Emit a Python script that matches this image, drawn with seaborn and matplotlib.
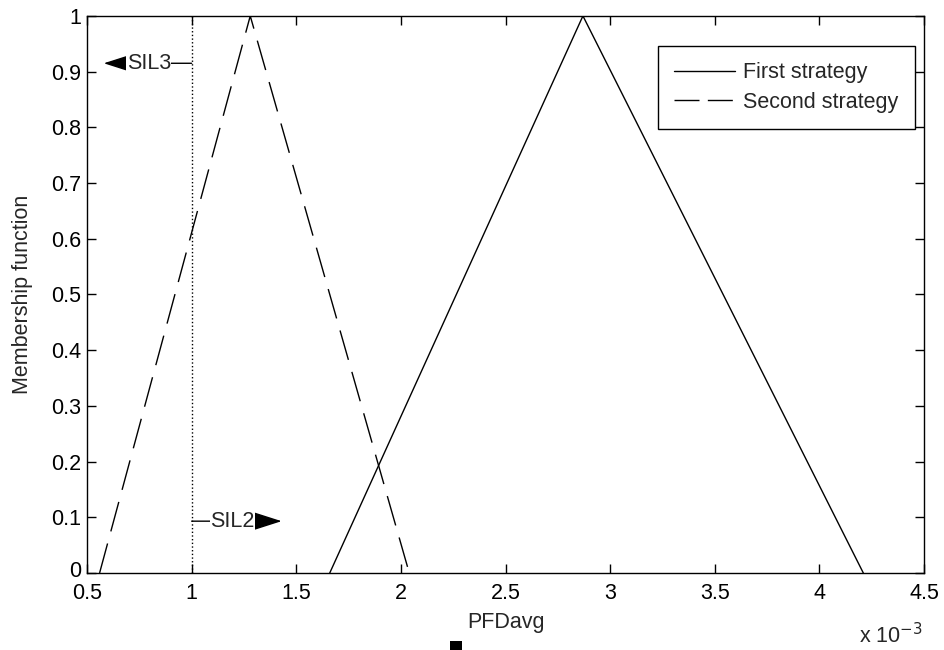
import matplotlib
matplotlib.use("Agg")
import matplotlib.pyplot as plt
from matplotlib.lines import Line2D
from matplotlib.patches import Rectangle
from matplotlib.transforms import ScaledTranslation
import numpy as np
import pandas as pd
import seaborn as sns

# PFDavg values are in units of 1e-3
first_x = [1.66, 2.87, 4.21]
first_mu = [0.0, 1.0, 0.0]
second_x = [0.56, 1.28, 2.04]
second_mu = [0.0, 1.0, 0.0]

sil_bound = 1.0
sil3_head = (0.58, 0.915)
sil2_head = (1.43, 0.093)

x_ticks = [0.5, 1, 1.5, 2, 2.5, 3, 3.5, 4, 4.5]
y_ticks = [0, 0.1, 0.2, 0.3, 0.4, 0.5, 0.6, 0.7, 0.8, 0.9, 1]

FS = 15.5

sns.set_style("ticks")
plt.rcParams["font.family"] = ["Liberation Sans", "DejaVu Sans"]
plt.rcParams["font.size"] = FS

df = pd.concat([
    pd.DataFrame({"pfd": first_x, "mu": first_mu, "strategy": "First strategy"}),
    pd.DataFrame({"pfd": second_x, "mu": second_mu, "strategy": "Second strategy"}),
])

fig = plt.figure(figsize=(9.44, 6.5), dpi=100)
ax = fig.add_axes([0.0922, 0.1185, 0.8866, 0.857])

sns.lineplot(data=df, x="pfd", y="mu", hue="strategy", style="strategy",
             palette=["black", "black"],
             dashes={"First strategy": "", "Second strategy": (22, 9)},
             lw=1.0, sort=False, estimator=None, ax=ax, legend=False)

ax.axvline(sil_bound, color="black", ls=":", lw=1.0)

# SIL annotations
arrow = dict(arrowstyle="-|>,head_length=1.25,head_width=0.4",
             color="black", lw=1.0, shrinkA=0, shrinkB=0)
ax.annotate("", xy=sil3_head, xytext=(sil_bound, sil3_head[1]), arrowprops=arrow)
ax.text(0.795, sil3_head[1], "SIL3", ha="center", va="center",
        bbox=dict(fc="white", ec="none", pad=0.3), zorder=5)
ax.annotate("", xy=sil2_head, xytext=(sil_bound, sil2_head[1]), arrowprops=arrow)
ax.text(1.195, sil2_head[1], "SIL2", ha="center", va="center",
        bbox=dict(fc="white", ec="none", pad=0.3), zorder=5)

ax.set_xlim(0.5, 4.5)
ax.set_ylim(0, 1)
ax.set_xticks(x_ticks)
ax.set_xticklabels([f"{t:g}" for t in x_ticks])
ax.set_yticks(y_ticks)
ax.set_yticklabels([f"{t:g}" for t in y_ticks])
ax.tick_params(direction="in", length=6.5, width=1, top=True, right=True,
               colors="black", labelsize=FS)
ax.tick_params(axis="x", pad=7)
ax.tick_params(axis="y", pad=4)
for sp in ax.spines.values():
    sp.set_visible(True)
    sp.set_color("black")
    sp.set_linewidth(1.0)

# lift the "0" label a little so it sits above the "0.5" below it
zero_lbl = ax.get_yticklabels()[0]
zero_lbl.set_transform(zero_lbl.get_transform() + ScaledTranslation(0, 3 / 72, fig.dpi_scale_trans))

ax.set_xlabel("PFDavg", labelpad=6)
ax.set_ylabel("Membership function", labelpad=13)
ax.text(0.998, -0.112, "x 10$^{-3}$", transform=ax.transAxes, ha="right", va="center")

handles = [Line2D([], [], color="black", lw=1.0),
           Line2D([], [], color="black", lw=1.0, dashes=(18, 6))]
leg = ax.legend(handles, ["First strategy", "Second strategy"],
                loc="upper right", bbox_to_anchor=(0.989, 0.946),
                fancybox=False, edgecolor="black", framealpha=1,
                handlelength=2.8, handletextpad=0.4, borderpad=0.75,
                labelspacing=0.4, borderaxespad=0)
leg.get_frame().set_linewidth(1.0)

# small black mark below the x label
fig.add_artist(Rectangle((450 / 944, 0), 12 / 944, 9 / 650, transform=fig.transFigure,
                         color="black", lw=0))

fig.savefig("out.png", dpi=100)
